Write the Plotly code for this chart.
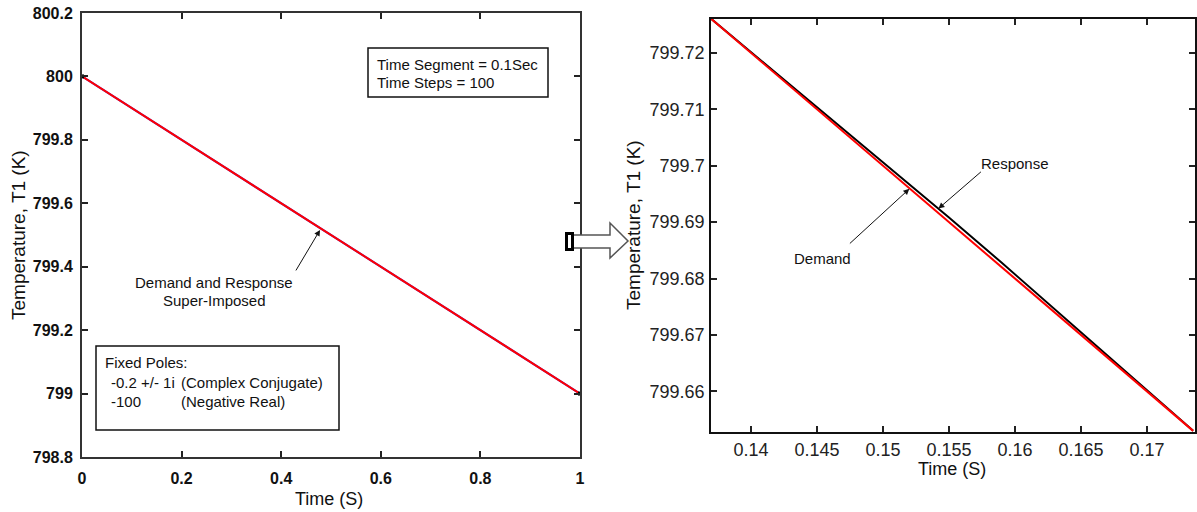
import plotly.graph_objects as go

W, H = 1197, 512

# ---------------- data ----------------
time_full = [0.0, 0.1, 0.2, 0.3, 0.4, 0.5, 0.6, 0.7, 0.8, 0.9, 1.0]
demand_full = [800.0, 799.9, 799.8, 799.7, 799.6, 799.5, 799.4, 799.3, 799.2, 799.1, 799.0]
response_full = [800.0, 799.9, 799.8, 799.7, 799.6, 799.5, 799.4, 799.3, 799.2, 799.1, 799.0]

time_zoom = [0.137, 0.1395, 0.143, 0.147, 0.151, 0.155, 0.159, 0.163, 0.167, 0.1705, 0.1735]
demand_zoom = [799.726, 799.721, 799.714, 799.706, 799.698, 799.690, 799.682, 799.674, 799.666, 799.659, 799.653]
response_zoom = [799.726, 799.7211, 799.7143, 799.7065, 799.6987, 799.6908, 799.6828, 799.6746, 799.6663, 799.6591, 799.653]

x1_ticks = [0, 0.2, 0.4, 0.6, 0.8, 1]
x1_text = ["0", "0.2", "0.4", "0.6", "0.8", "1"]
y1_ticks = [798.8, 799.0, 799.2, 799.4, 799.6, 799.8, 800.0, 800.2]
y1_text = ["798.8", "799", "799.2", "799.4", "799.6", "799.8", "800", "800.2"]
x2_ticks = [0.14, 0.145, 0.15, 0.155, 0.16, 0.165, 0.17]
x2_text = ["0.14", "0.145", "0.15", "0.155", "0.16", "0.165", "0.17"]
y2_ticks = [799.66, 799.67, 799.68, 799.69, 799.70, 799.71, 799.72]
y2_text = ["799.66", "799.67", "799.68", "799.69", "799.7", "799.71", "799.72"]

FONT = "Liberation Sans, Arial, sans-serif"


def px(x):
    return x / W


def py(y):
    return 1 - y / H


fig = go.Figure()

# left panel
fig.add_trace(go.Scatter(x=time_full, y=response_full, mode="lines",
                         line=dict(color="#2020ff", width=2), xaxis="x", yaxis="y",
                         showlegend=False))
fig.add_trace(go.Scatter(x=time_full, y=demand_full, mode="lines",
                         line=dict(color="#ff0000", width=2), xaxis="x", yaxis="y",
                         showlegend=False))
fig.add_trace(go.Scatter(x=[time_full[0], time_full[-1]], y=[demand_full[0], demand_full[-1]],
                         mode="markers", marker=dict(color="black", size=4, symbol="square"),
                         xaxis="x", yaxis="y", showlegend=False, cliponaxis=False))

# right panel
fig.add_trace(go.Scatter(x=time_zoom, y=response_zoom, mode="lines",
                         line=dict(color="#000000", width=2), xaxis="x2", yaxis="y2",
                         showlegend=False))
fig.add_trace(go.Scatter(x=time_zoom, y=demand_zoom, mode="lines",
                         line=dict(color="#ff0000", width=2), xaxis="x2", yaxis="y2",
                         showlegend=False))

axis_common = dict(showgrid=False, zeroline=False, showline=True, mirror="ticks",
                   ticks="inside", ticklen=6, tickcolor="#222", tickwidth=1.5,
                   automargin=False)

fig.update_layout(
    width=W, height=H,
    margin=dict(l=0, r=0, t=0, b=0, autoexpand=False),
    paper_bgcolor="white", plot_bgcolor="white",
    font=dict(family=FONT, color="#111"),
    xaxis=dict(domain=[px(82), px(580)], range=[0, 1], anchor="y",
               tickvals=x1_ticks, ticktext=x1_text,
               tickfont=dict(size=16, weight="bold", family=FONT, color="#111"),
               linecolor="#333", linewidth=2, ticklabelstandoff=6, **axis_common),
    yaxis=dict(domain=[py(457), py(13)], range=[798.8, 800.2], anchor="x",
               tickvals=y1_ticks, ticktext=y1_text,
               tickfont=dict(size=16, weight="bold", family=FONT, color="#111"),
               linecolor="#333", linewidth=2, ticklabelstandoff=4, **axis_common),
    xaxis2=dict(domain=[px(711), px(1195)], range=[0.13697, 0.17364], anchor="y2",
                tickvals=x2_ticks, ticktext=x2_text,
                tickfont=dict(size=18, family=FONT, color="#222"),
                linecolor="#111", linewidth=1.5, ticklabelstandoff=1, **axis_common),
    yaxis2=dict(domain=[py(432), py(19)], range=[799.6528, 799.7260], anchor="x2",
                tickvals=y2_ticks, ticktext=y2_text,
                tickfont=dict(size=18, family=FONT, color="#222"),
                linecolor="#111", linewidth=1.5, ticklabelstandoff=1, **axis_common),
)

shapes = []
# Time segment box
shapes.append(dict(type="rect", xref="paper", yref="paper",
                   x0=px(368), x1=px(548), y0=py(97), y1=py(48),
                   line=dict(color="#111", width=1.5), fillcolor="white", layer="above"))
# Fixed poles box
shapes.append(dict(type="rect", xref="paper", yref="paper",
                   x0=px(96), x1=px(339), y0=py(430), y1=py(346),
                   line=dict(color="#111", width=1.5), fillcolor="white", layer="above"))


def path(points):
    s = "M " + " L ".join(f"{px(a):.5f},{py(b):.5f}" for a, b in points) + " Z"
    return s


# block arrow between panels
shapes.append(dict(type="path", xref="paper", yref="paper",
                   path=path([(573, 235), (610, 235), (610, 223), (628, 241),
                              (610, 258), (610, 248), (573, 248)]),
                   fillcolor="white", line=dict(color="#555", width=1.5)))
shapes.append(dict(type="rect", xref="paper", yref="paper",
                   x0=px(565), x1=px(574), y0=py(251), y1=py(232),
                   fillcolor="black", line=dict(width=0)))
shapes.append(dict(type="rect", xref="paper", yref="paper",
                   x0=px(568), x1=px(571), y0=py(248), y1=py(235),
                   fillcolor="white", line=dict(width=0)))
fig.update_layout(shapes=shapes)

ann = []


def text(x, y, s, size=15, xanchor="left", angle=0):
    ann.append(dict(xref="paper", yref="paper", x=px(x), y=py(y), text=s,
                    showarrow=False, xanchor=xanchor, yanchor="middle",
                    textangle=angle, font=dict(size=size, family=FONT, color="#111")))


# axis titles
text(18, 235, "Temperature, T1 (K)", size=19, xanchor="center", angle=-90)
text(329, 499, "Time (S)", size=18, xanchor="center")
text(633, 225, "Temperature, T1 (K)", size=19, xanchor="center", angle=-90)
text(952, 469, "Time (S)", size=18, xanchor="center")

# text boxes
text(375, 64, "Time Segment = 0.1Sec", size=15)
text(375, 82, "Time Steps = 100", size=15)
text(103, 362, "Fixed Poles:", size=15)
text(109, 382, "-0.2 +/- 1i", size=15)
text(179, 382, "(Complex Conjugate)", size=15)
text(109, 401, "-100", size=15)
text(179, 401, "(Negative Real)", size=15)

# left annotation
text(214, 282, "Demand and Response", size=15, xanchor="center")
text(214, 300, "Super-Imposed", size=15, xanchor="center")
ann.append(dict(xref="x", yref="y", x=0.478, y=799.516, ax=-25, ay=42, text="",
                showarrow=True, arrowhead=2, arrowsize=1.2, arrowwidth=1, arrowcolor="#111",
                standoff=0, startstandoff=0))

# right annotations
text(1015, 163, "Response", size=15, xanchor="center")
ann.append(dict(xref="x2", yref="y2", x=0.1542, y=799.6924, ax=44, ay=-38, text="",
                showarrow=True, arrowhead=2, arrowsize=1.2, arrowwidth=1, arrowcolor="#111",
                standoff=0, startstandoff=0))
text(822, 258, "Demand", size=15, xanchor="center")
ann.append(dict(xref="x2", yref="y2", x=0.152, y=799.6959, ax=-61, ay=56, text="",
                showarrow=True, arrowhead=2, arrowsize=1.2, arrowwidth=1, arrowcolor="#111",
                standoff=0, startstandoff=0))

fig.update_layout(annotations=ann)

fig.write_html("out.html", config={"displayModeBar": False},
               post_script="document.body.style.margin='0';document.body.style.overflow='hidden';")
